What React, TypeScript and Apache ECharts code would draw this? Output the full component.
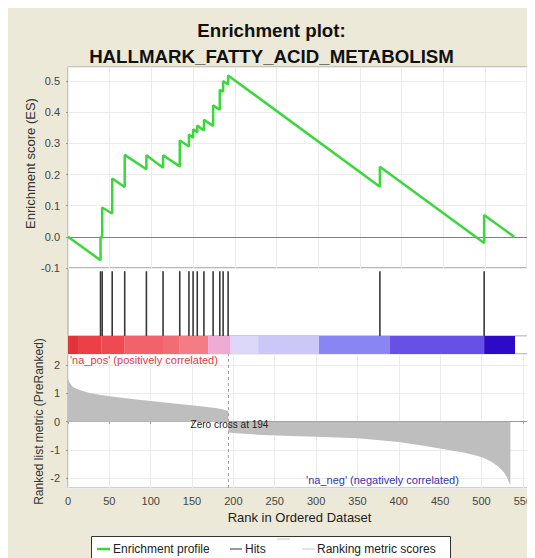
import React, { useEffect, useRef } from "react";
import * as echarts from "echarts";

const titleLines = ["Enrichment plot:", "HALLMARK_FATTY_ACID_METABOLISM"];

// Running enrichment score vertices [rank, ES]
const esProfile: [number, number][] = [
  [0, 0], [39, -0.075], [39, 0.0], [41, -0.004], [41, 0.094],
  [53, 0.075], [53, 0.187], [68, 0.16], [68, 0.263], [94, 0.217], [94, 0.262],
  [114, 0.222], [114, 0.262], [134, 0.226], [134, 0.309], [145, 0.29], [145, 0.328],
  [150, 0.318], [150, 0.345], [155, 0.336], [155, 0.357], [163, 0.341], [163, 0.376],
  [174, 0.356], [174, 0.422], [182, 0.408], [182, 0.472], [186, 0.466], [186, 0.5],
  [192, 0.489], [192, 0.518], [374, 0.161], [374, 0.225], [499, -0.02], [499, 0.07],
  [535, 0.0],
];

// Ranks of gene-set hits
const hitRanks = [39, 41, 53, 68, 94, 114, 134, 145, 150, 155, 163, 174, 182, 186, 192, 374, 499];

// Ranked list metric [rank, value]
const metricPoints: [number, number][] = [
  [0, 1.5], [2, 1.38], [5, 1.25], [10, 1.16], [16, 1.1], [25, 1.02], [40, 0.94],
  [60, 0.86], [80, 0.79], [100, 0.73], [120, 0.67], [140, 0.61], [160, 0.55],
  [178, 0.48], [188, 0.43], [194, 0.38], [194, -0.38], [200, -0.4], [230, -0.46],
  [260, -0.5], [300, -0.53], [350, -0.58], [400, -0.72], [430, -0.85], [460, -1.0],
  [480, -1.1], [500, -1.25], [511, -1.4], [520, -1.57], [527, -1.78], [531, -1.98],
  [535, -2.25],
];

const zeroCross = 194;

// Colour bar segments [startRank, endRank]
const barSegments: [number, number][] = [
  [0, 12], [12, 40], [40, 68], [68, 115], [115, 134], [134, 168], [168, 195],
  [195, 228], [228, 301], [301, 386], [386, 499], [499, 536],
];
const barColors = [
  "#e2323a", "#ec4048", "#ef4a52", "#f2626a", "#f26c74", "#f47c84", "#f0aad6",
  "#dcd8fa", "#cbc8f8", "#8985f3", "#6650e6", "#2c0ac8",
];

const FONT = "'Liberation Sans', Arial, Helvetica, sans-serif";

export default function App() {
  const ref = useRef<HTMLDivElement>(null);

  useEffect(() => {
    if (!ref.current) return;
    const chart = echarts.init(ref.current, undefined, { renderer: "svg" });

    const gridBorder = "#a0a0a0";
    const split = { show: true, lineStyle: { color: "#ececec", width: 1 } };
    const xBase = {
      type: "value" as const,
      min: 0,
      max: 560,
      interval: 50,
      axisLine: { show: false },
      axisTick: { show: false },
      axisLabel: { show: false },
    };

    const option: any = {
      animation: false,
      backgroundColor: "#ece9d8",
      textStyle: { fontFamily: FONT },
      title: {
        text: titleLines.join("\n"),
        left: "center",
        top: 4,
        textStyle: {
          fontFamily: FONT,
          fontSize: 18.7,
          fontWeight: "bold",
          color: "#111",
          lineHeight: 26,
        },
      },
      grid: [
        { left: 60, right: 0, top: 59, height: 201, show: true, backgroundColor: "#fff", borderColor: gridBorder, borderWidth: 1 },
        { left: 60, right: 0, top: 260, height: 68, show: true, backgroundColor: "#fff", borderColor: gridBorder, borderWidth: 1 },
        { left: 60, right: 0, top: 328, height: 18, show: true, backgroundColor: "#fff", borderColor: "#c8c8c8", borderWidth: 1 },
        { left: 60, right: 0, top: 346, height: 134, show: true, backgroundColor: "#fff", borderColor: gridBorder, borderWidth: 1 },
      ],
      xAxis: [
        { ...xBase, gridIndex: 0, splitLine: split },
        { ...xBase, gridIndex: 1, splitLine: { show: false } },
        { ...xBase, gridIndex: 2, splitLine: { show: false } },
        {
          ...xBase,
          gridIndex: 3,
          splitLine: split,
          axisLine: { show: true, lineStyle: { color: "#999" } },
          axisTick: { show: true, length: 2, lineStyle: { color: "#999" } },
          axisLabel: {
            show: true,
            showMaxLabel: false,
            fontSize: 11,
            color: "#444",
            margin: 7,
            fontFamily: FONT,
          },
          name: "Rank in Ordered Dataset",
          nameLocation: "middle",
          nameGap: 23,
          nameTextStyle: { fontSize: 13, color: "#222", fontFamily: FONT },
        },
      ],
      yAxis: [
        {
          type: "value",
          gridIndex: 0,
          min: -0.1,
          max: 0.545,
          interval: 0.1,
          splitLine: split,
          axisLine: { show: false },
          axisTick: { show: true, length: 2, lineStyle: { color: "#999" } },
          axisLabel: {
            showMaxLabel: false,
            fontSize: 11,
            color: "#444",
            margin: 8,
            fontFamily: FONT,
            formatter: (v: number) => v.toFixed(1),
          },
        },
        {
          type: "value",
          gridIndex: 1,
          min: 0,
          max: 1.05,
          show: false,
          splitLine: { show: false },
        },
        {
          type: "value",
          gridIndex: 2,
          min: 0,
          max: 1,
          show: false,
          splitLine: { show: false },
        },
        {
          type: "value",
          gridIndex: 3,
          min: -2.34,
          max: 2.39,
          splitNumber: 5,
          splitLine: split,
          axisLine: { show: false },
          axisTick: { show: true, length: 2, lineStyle: { color: "#999" } },
          axisLabel: {
            showMinLabel: false,
            showMaxLabel: false,
            fontSize: 11,
            color: "#444",
            margin: 8,
            fontFamily: FONT,
          },
        },
      ],
      series: [
        {
          name: "Enrichment profile",
          type: "line",
          xAxisIndex: 0,
          yAxisIndex: 0,
          data: esProfile,
          showSymbol: false,
          symbol: "none",
          lineStyle: { color: "#3ad83a", width: 2.5 },
          z: 5,
          markLine: {
            silent: true,
            symbol: "none",
            label: { show: false },
            lineStyle: { color: "#808080", width: 1, type: "solid" },
            data: [{ yAxis: 0 }],
          },
        },
        {
          name: "Hits",
          type: "bar",
          xAxisIndex: 1,
          yAxisIndex: 1,
          data: hitRanks.map((r) => [r, 1]),
          barWidth: 1.6,
          itemStyle: { color: "#383838" },
        },
        {
          name: "Colour bar",
          type: "custom",
          xAxisIndex: 2,
          yAxisIndex: 2,
          data: barSegments.map((s, i) => [s[0], s[1], i]),
          encode: { x: [0, 1] },
          renderItem: (_params: any, api: any) => {
            const s = api.value(0);
            const e = api.value(1);
            const i = api.value(2);
            const p0 = api.coord([s, 1]);
            const p1 = api.coord([e, 0]);
            return {
              type: "rect",
              shape: { x: p0[0], y: p0[1], width: p1[0] - p0[0], height: p1[1] - p0[1] },
              style: { fill: barColors[i] },
            };
          },
        },
        {
          name: "Ranking metric scores",
          type: "line",
          xAxisIndex: 3,
          yAxisIndex: 3,
          data: metricPoints,
          showSymbol: false,
          symbol: "none",
          lineStyle: { width: 0, color: "#bebebe" },
          areaStyle: { color: "#bebebe", opacity: 1 },
          markLine: {
            silent: true,
            symbol: "none",
            label: { show: false },
            lineStyle: { color: "#a0a0a0", width: 1, type: [3, 3] },
            data: [{ xAxis: zeroCross }],
          },
        },
      ],
      graphic: [
        {
          type: "text",
          x: 22,
          y: 155.5,
          rotation: Math.PI / 2,
          z: 100,
          style: {
            text: "Enrichment score (ES)",
            fill: "#333",
            font: `13px ${FONT}`,
            textAlign: "center",
            textVerticalAlign: "middle",
          },
        },
        {
          type: "text",
          x: 31,
          y: 413.5,
          rotation: Math.PI / 2,
          z: 100,
          style: {
            text: "Ranked list metric (PreRanked)",
            fill: "#333",
            font: `12px ${FONT}`,
            textAlign: "center",
            textVerticalAlign: "middle",
          },
        },
        {
          type: "text",
          x: 62,
          y: 352,
          z: 100,
          style: {
            text: "'na_pos' (positively correlated)",
            fill: "#e03a48",
            font: `11px ${FONT}`,
            textAlign: "left",
            textVerticalAlign: "middle",
          },
        },
        {
          type: "text",
          x: 221.5,
          y: 416,
          z: 100,
          style: {
            text: "Zero cross at " + zeroCross,
            fill: "#222",
            font: `10px ${FONT}`,
            textAlign: "center",
            textVerticalAlign: "middle",
          },
        },
        {
          type: "text",
          x: 374.5,
          y: 472,
          z: 100,
          style: {
            text: "'na_neg' (negatively correlated)",
            fill: "#3434b4",
            font: `11px ${FONT}`,
            textAlign: "center",
            textVerticalAlign: "middle",
          },
        },
        {
          type: "rect",
          z: 100,
          shape: { x: 83.5, y: 528.5, width: 359, height: 30 },
          style: { fill: "#fff", stroke: "#333", lineWidth: 1 },
        },
        {
          type: "line",
          z: 101,
          shape: { x1: 89, y1: 541, x2: 102, y2: 541 },
          style: { stroke: "#3ad83a", lineWidth: 2.5 },
        },
        {
          type: "text",
          x: 105,
          y: 541,
          z: 101,
          style: {
            text: "Enrichment profile",
            fill: "#222",
            font: `12px ${FONT}`,
            textAlign: "left",
            textVerticalAlign: "middle",
          },
        },
        {
          type: "line",
          z: 101,
          shape: { x1: 222, y1: 541, x2: 234, y2: 541 },
          style: { stroke: "#333", lineWidth: 1 },
        },
        {
          type: "text",
          x: 237,
          y: 541,
          z: 101,
          style: {
            text: "Hits",
            fill: "#222",
            font: `12px ${FONT}`,
            textAlign: "left",
            textVerticalAlign: "middle",
          },
        },
        {
          type: "line",
          z: 101,
          shape: { x1: 269, y1: 531, x2: 282, y2: 531 },
          style: { stroke: "#e4e4e4", lineWidth: 2 },
        },
        {
          type: "line",
          z: 101,
          shape: { x1: 294, y1: 541, x2: 307, y2: 541 },
          style: { stroke: "#c8c8c8", lineWidth: 1 },
        },
        {
          type: "text",
          x: 309,
          y: 541,
          z: 101,
          style: {
            text: "Ranking metric scores",
            fill: "#222",
            font: `12px ${FONT}`,
            textAlign: "left",
            textVerticalAlign: "middle",
          },
        },
      ],
    };

    chart.setOption(option);
    return () => chart.dispose();
  }, []);

  return <div ref={ref} style={{ width: 527, height: 550 }} />;
}
